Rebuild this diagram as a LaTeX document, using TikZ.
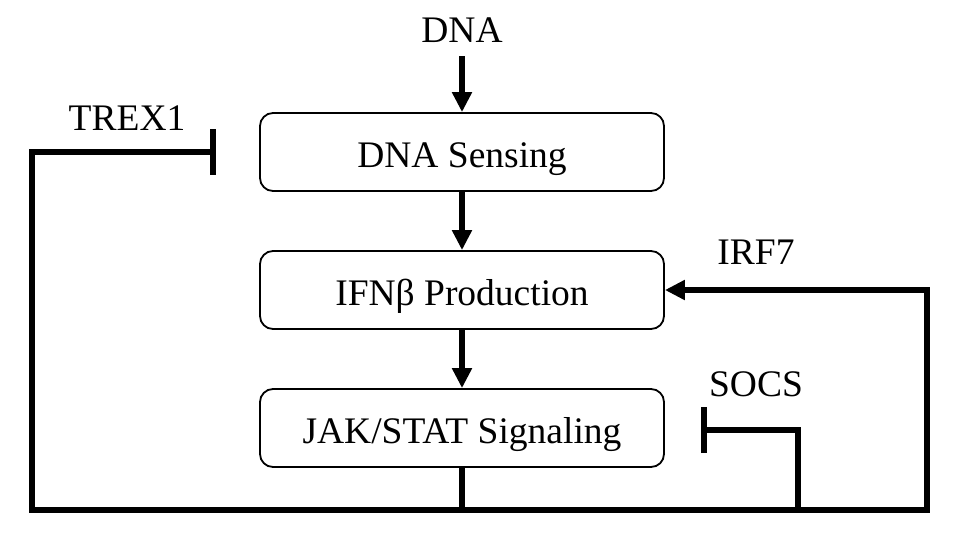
\documentclass[tikz,border=0pt]{standalone}
\usepackage{fontspec}
\setmainfont{Liberation Serif}
\usetikzlibrary{arrows.meta}
\begin{document}
\begin{tikzpicture}[x=1pt,y=-1pt,
  box/.style={draw, line width=1.8pt, rounded corners=13pt, minimum width=404pt, minimum height=78pt, inner sep=0pt, text height=30pt, text depth=0pt, font=\fontsize{37.5}{40}\selectfont},
  lbl/.style={font=\fontsize{37.5}{40}\selectfont, inner sep=0pt, anchor=base},
  thick line/.style={line width=6pt, line join=miter},
  act/.style={thick line, -{Triangle[length=20pt,width=19pt]}},
  inh/.style={thick line, -{Bar[width=46pt,line width=6pt]}}]
\useasboundingbox (0,0) rectangle (963,536);
\node[box] (dna) at (462,152) {DNA Sensing};
\node[box] (ifn) at (462,290) {IFNβ Production};
\node[box] (jak) at (462,428) {JAK/STAT Signaling};
\node[lbl] (dnal) at (462,42) {DNA};
\node[lbl] (trex) at (127,130) {TREX1};
\node[lbl] (irf) at (756,264) {IRF7};
\node[lbl] (socs) at (756,396) {SOCS};
\coordinate (dnas) at (462,56);
\coordinate (bl) at (32,510);
\coordinate (br) at (927,510);
\coordinate (tl) at (32,152);
\coordinate (bar1) at (216,152);
\coordinate (tr) at (927,290);
\coordinate (sb) at (798,510);
\coordinate (st) at (798,430);
\coordinate (bar2) at (701,430);
\coordinate (jb) at (462,510);
\draw[act] (dnas) -- (dna.north);
\draw[act] (dna) -- (ifn);
\draw[act] (ifn) -- (jak);
\draw[thick line] (jak.south) -- (jb);
\draw[thick line, {Bar[width=46pt,line width=6pt]}-{Triangle[length=20pt,width=19pt]}] (bar1) -- (tl) -- (bl) -- (br) -- (tr) -- (ifn.east);
\draw[inh] (sb) -- (st) -- (bar2);
\end{tikzpicture}
\end{document}
